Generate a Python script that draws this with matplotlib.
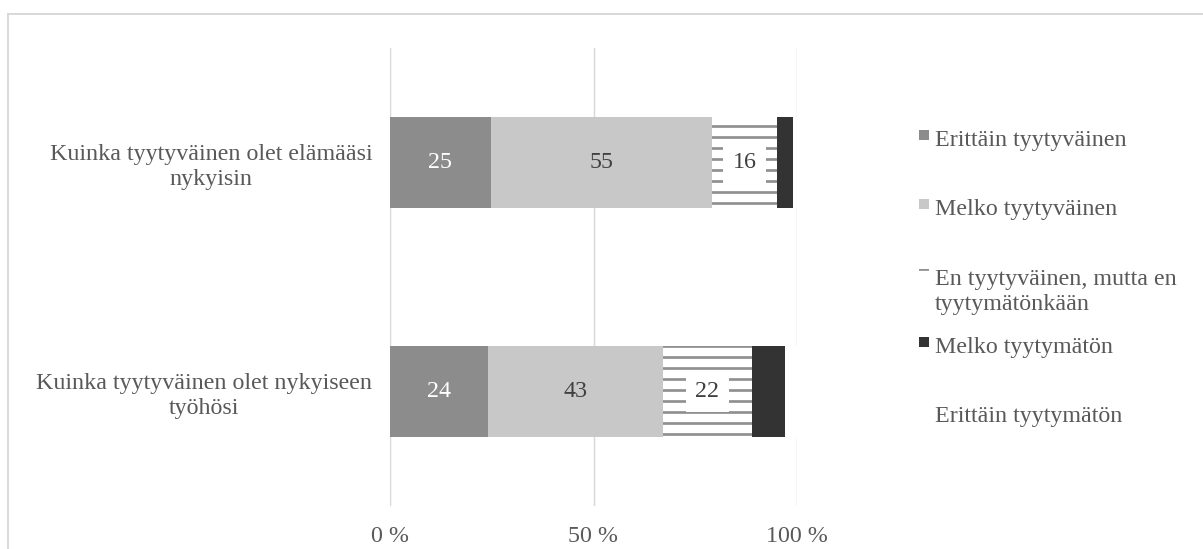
import matplotlib
matplotlib.use('Agg')
import matplotlib.pyplot as plt
from matplotlib.patches import Rectangle
import numpy as np

# survey data (raw answer shares, drawn as 100 % stacked bars)
questions = ['Kuinka tyytyväinen olet elämääsi\nnykyisin',
             'Kuinka tyytyväinen olet nykyiseen\ntyöhösi']
answers = ['Erittäin tyytyväinen',
           'Melko tyytyväinen',
           'En tyytyväinen, mutta en\ntyytymätönkään',
           'Melko tyytymätön',
           'Erittäin tyytymätön']
erittain_tyytyvainen = [25, 24]
melko_tyytyvainen = [55, 43]
en_kumpikaan = [16, 22]
melko_tyytymaton = [4, 8]
erittain_tyytymaton = [1, 3]
x_ticks = [0, 50, 100]
x_ticklabels = ['0 %', '50 %', '100 %']

# styles
fills = ['#8c8c8c', '#c8c8c8', 'white', '#333333', 'white']
edges = ['#8c8c8c', '#c8c8c8', '#909090', '#333333', 'white']
hatches = [None, None, '-', None, None]
label_colors = ['white', '#404040', '#404040']
text_color = '#595959'
grid_color = '#d9d9d9'

W, H = 1203, 549
DPI = 200 / 3
PX = 72 / DPI          # points per pixel
FS = 24 * PX           # font size, ~24 px em
LINE = 1.22            # line spacing for two-line labels

plt.rcParams['font.family'] = ['Liberation Serif', 'DejaVu Serif']
plt.rcParams['hatch.linewidth'] = 2.7 * PX

fig = plt.figure(figsize=(W / DPI, H / DPI), dpi=DPI)
ax = fig.add_axes([390 / W, 43 / H, 407 / W, 458 / H])

series = [erittain_tyytyvainen, melko_tyytyvainen, en_kumpikaan,
          melko_tyytymaton, erittain_tyytymaton]
values = np.array(series, dtype=float)
shares = values / values.sum(axis=0) * 100

y = np.arange(len(questions))
left = np.zeros(len(questions))
for i, label in enumerate(answers):
    bars = ax.barh(y, shares[i], left=left, height=0.4, color=fills[i],
                   edgecolor=edges[i], hatch=hatches[i], linewidth=0,
                   label=label, zorder=2)
    left += shares[i]
    if i < 3:
        kw = {}
        if hatches[i]:
            kw['bbox'] = dict(boxstyle='square,pad=0.4', fc='white', ec='none')
        ax.bar_label(bars, labels=[str(v) for v in series[i]],
                     label_type='center', color=label_colors[i],
                     fontsize=FS, **kw)

ax.set_xlim(0, 100)
ax.set_ylim(1.5, -0.5)
ax.set_xticks(x_ticks, labels=x_ticklabels)
ax.set_yticks(y, labels=questions)
for lbl in ax.get_yticklabels():
    lbl.set_multialignment('center')
    lbl.set_linespacing(LINE)
ax.tick_params(axis='x', length=0, pad=22, labelsize=FS, labelcolor=text_color)
ax.tick_params(axis='y', length=0, pad=19, labelsize=FS, labelcolor=text_color)
ax.grid(axis='x', color=grid_color, linewidth=1.5 * PX, zorder=0)
ax.set_axisbelow(True)
for s in ax.spines.values():
    s.set_visible(False)

# legend, laid out like the original (first lines 69 px apart)
baselines = [146, 215, 285, 353, 422]
for i, (label, base) in enumerate(zip(answers, baselines)):
    fig.add_artist(Rectangle((919 / W, 1 - (base - 6) / H), 10 / W, 10 / H,
                             transform=fig.transFigure, facecolor=fills[i],
                             edgecolor=edges[i], hatch=hatches[i], linewidth=0))
    # va='baseline' anchors the last line, so shift multi-line labels down
    last = base + 25 * label.count('\n')
    fig.text(935 / W, 1 - last / H, label, va='baseline', ha='left',
             fontsize=FS, color=text_color, linespacing=LINE)

# chart frame (cropped at right and bottom)
fig.add_artist(Rectangle((8 / W, -0.5), 2, 1 - 14 / H + 0.5,
                         transform=fig.transFigure, fill=False,
                         edgecolor=grid_color, linewidth=2 * PX))

fig.savefig('out.png', dpi=DPI)
